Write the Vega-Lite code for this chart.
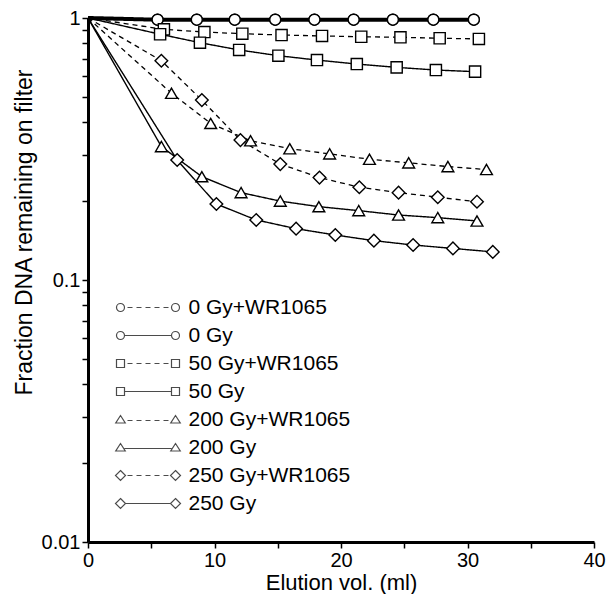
{
  "$schema": "https://vega.github.io/schema/vega-lite/v6.json",
  "autosize": "none",
  "width": 506,
  "height": 524,
  "padding": {"left": 88, "top": 18, "right": 20, "bottom": 52},
  "background": "white",
  "config": {
    "view": {"stroke": null},
    "font": "Liberation Sans",
    "axis": {"grid": false, "domainColor": "black", "tickColor": "black", "labelColor": "black", "titleColor": "black", "labelFont": "Liberation Sans", "titleFont": "Liberation Sans"}
  },
  "datasets": {
    "curves": [
      {"series": "0 Gy+WR1065", "vol": 0, "frac": 1},
      {"series": "0 Gy+WR1065", "vol": 5.5, "frac": 0.985},
      {"series": "0 Gy+WR1065", "vol": 8.6, "frac": 0.985},
      {"series": "0 Gy+WR1065", "vol": 11.6, "frac": 0.985},
      {"series": "0 Gy+WR1065", "vol": 14.8, "frac": 0.985},
      {"series": "0 Gy+WR1065", "vol": 17.9, "frac": 0.985},
      {"series": "0 Gy+WR1065", "vol": 21.0, "frac": 0.985},
      {"series": "0 Gy+WR1065", "vol": 24.1, "frac": 0.985},
      {"series": "0 Gy+WR1065", "vol": 27.3, "frac": 0.985},
      {"series": "0 Gy+WR1065", "vol": 30.5, "frac": 0.985},
      {"series": "0 Gy", "vol": 0, "frac": 1},
      {"series": "0 Gy", "vol": 5.5, "frac": 0.985},
      {"series": "0 Gy", "vol": 8.6, "frac": 0.985},
      {"series": "0 Gy", "vol": 11.6, "frac": 0.985},
      {"series": "0 Gy", "vol": 14.8, "frac": 0.985},
      {"series": "0 Gy", "vol": 17.9, "frac": 0.985},
      {"series": "0 Gy", "vol": 21.0, "frac": 0.985},
      {"series": "0 Gy", "vol": 24.1, "frac": 0.985},
      {"series": "0 Gy", "vol": 27.3, "frac": 0.985},
      {"series": "0 Gy", "vol": 30.5, "frac": 0.985},
      {"series": "50 Gy+WR1065", "vol": 0, "frac": 1},
      {"series": "50 Gy+WR1065", "vol": 6.0, "frac": 0.905},
      {"series": "50 Gy+WR1065", "vol": 9.2, "frac": 0.884},
      {"series": "50 Gy+WR1065", "vol": 12.2, "frac": 0.871},
      {"series": "50 Gy+WR1065", "vol": 15.3, "frac": 0.861},
      {"series": "50 Gy+WR1065", "vol": 18.5, "frac": 0.854},
      {"series": "50 Gy+WR1065", "vol": 21.6, "frac": 0.848},
      {"series": "50 Gy+WR1065", "vol": 24.7, "frac": 0.844},
      {"series": "50 Gy+WR1065", "vol": 27.8, "frac": 0.837},
      {"series": "50 Gy+WR1065", "vol": 30.9, "frac": 0.832},
      {"series": "50 Gy", "vol": 0, "frac": 1},
      {"series": "50 Gy", "vol": 5.7, "frac": 0.867},
      {"series": "50 Gy", "vol": 8.85, "frac": 0.805},
      {"series": "50 Gy", "vol": 11.95, "frac": 0.755},
      {"series": "50 Gy", "vol": 15.05, "frac": 0.718},
      {"series": "50 Gy", "vol": 18.1, "frac": 0.691},
      {"series": "50 Gy", "vol": 21.25, "frac": 0.667},
      {"series": "50 Gy", "vol": 24.4, "frac": 0.648},
      {"series": "50 Gy", "vol": 27.5, "frac": 0.633},
      {"series": "50 Gy", "vol": 30.6, "frac": 0.624},
      {"series": "200 Gy+WR1065", "vol": 0, "frac": 1},
      {"series": "200 Gy+WR1065", "vol": 6.6, "frac": 0.516},
      {"series": "200 Gy+WR1065", "vol": 9.7, "frac": 0.396},
      {"series": "200 Gy+WR1065", "vol": 12.85, "frac": 0.34},
      {"series": "200 Gy+WR1065", "vol": 15.95, "frac": 0.317},
      {"series": "200 Gy+WR1065", "vol": 19.1, "frac": 0.303},
      {"series": "200 Gy+WR1065", "vol": 22.25, "frac": 0.289},
      {"series": "200 Gy+WR1065", "vol": 25.35, "frac": 0.28},
      {"series": "200 Gy+WR1065", "vol": 28.45, "frac": 0.271},
      {"series": "200 Gy+WR1065", "vol": 31.5, "frac": 0.264},
      {"series": "200 Gy", "vol": 0, "frac": 1},
      {"series": "200 Gy", "vol": 5.8, "frac": 0.323},
      {"series": "200 Gy", "vol": 9.0, "frac": 0.248},
      {"series": "200 Gy", "vol": 12.1, "frac": 0.2155},
      {"series": "200 Gy", "vol": 15.2, "frac": 0.2},
      {"series": "200 Gy", "vol": 18.25, "frac": 0.1905},
      {"series": "200 Gy", "vol": 21.4, "frac": 0.184},
      {"series": "200 Gy", "vol": 24.55, "frac": 0.177},
      {"series": "200 Gy", "vol": 27.65, "frac": 0.173},
      {"series": "200 Gy", "vol": 30.75, "frac": 0.168},
      {"series": "250 Gy+WR1065", "vol": 0, "frac": 1},
      {"series": "250 Gy+WR1065", "vol": 5.8, "frac": 0.687},
      {"series": "250 Gy+WR1065", "vol": 9.0, "frac": 0.486},
      {"series": "250 Gy+WR1065", "vol": 12.05, "frac": 0.342},
      {"series": "250 Gy+WR1065", "vol": 15.2, "frac": 0.277},
      {"series": "250 Gy+WR1065", "vol": 18.3, "frac": 0.246},
      {"series": "250 Gy+WR1065", "vol": 21.45, "frac": 0.226},
      {"series": "250 Gy+WR1065", "vol": 24.55, "frac": 0.2155},
      {"series": "250 Gy+WR1065", "vol": 27.65, "frac": 0.207},
      {"series": "250 Gy+WR1065", "vol": 30.75, "frac": 0.199},
      {"series": "250 Gy", "vol": 0, "frac": 1},
      {"series": "250 Gy", "vol": 7.05, "frac": 0.287},
      {"series": "250 Gy", "vol": 10.15, "frac": 0.195},
      {"series": "250 Gy", "vol": 13.3, "frac": 0.1695},
      {"series": "250 Gy", "vol": 16.45, "frac": 0.157},
      {"series": "250 Gy", "vol": 19.55, "frac": 0.1485},
      {"series": "250 Gy", "vol": 22.6, "frac": 0.1413},
      {"series": "250 Gy", "vol": 25.7, "frac": 0.136},
      {"series": "250 Gy", "vol": 28.85, "frac": 0.132},
      {"series": "250 Gy", "vol": 32.0, "frac": 0.128}
    ]
  },
  "encoding": {
    "x": {
      "field": "vol", "type": "quantitative",
      "scale": {"domain": [0, 40], "nice": false, "zero": false},
      "axis": {
        "title": "Elution vol. (ml)",
        "values": [0, 5, 10, 15, 20, 25, 30, 35, 40],
        "labelExpr": "datum.value % 10 == 0 ? datum.label : ''",
        "tickSize": 6, "tickWidth": 1.5, "domainWidth": 3,
        "labelFontSize": 20, "labelPadding": 2, "labelFlush": false,
        "titleFontSize": 22, "titleFontWeight": "normal", "titleBaseline": "alphabetic", "titleY": 47
      }
    },
    "y": {
      "field": "frac", "type": "quantitative",
      "scale": {"type": "log", "domain": [0.01, 1], "nice": false},
      "axis": {
        "title": "Fraction DNA remaining on filter",
        "values": [0.01, 0.02, 0.03, 0.04, 0.05, 0.06, 0.07, 0.08, 0.09, 0.1, 0.2, 0.3, 0.4, 0.5, 0.6, 0.7, 0.8, 0.9, 1],
        "labelExpr": "datum.value == 1 ? '1' : datum.value == 0.1 ? '0.1' : datum.value == 0.01 ? '0.01' : ''",
        "tickSize": 6, "tickWidth": 1.5, "domainWidth": 3,
        "labelFontSize": 20, "labelPadding": 2, "labelFlush": false,
        "titleFontSize": 23, "titleFontWeight": "normal", "titleX": -52, "titleY": 214
      }
    }
  },
  "layer": [
    {
      "data": {"name": "curves"},
      "mark": {"type": "line", "color": "black", "strokeCap": "butt"},
      "encoding": {
        "detail": {"field": "series"},
        "strokeDash": {
          "field": "series",
          "scale": {
            "range": [[1, 0], [5, 4], [1, 0], [5, 4], [1, 0], [5, 4], [1, 0], [5, 4]]
          },
          "legend": null
        },
        "strokeWidth": {
          "field": "series",
          "scale": {
            "type": "ordinal",
            "range": [4, 1.3, 1.4, 1.3, 1.4, 1.3, 1.4, 1.3]
          },
          "legend": null
        }
      }
    },
    {
      "data": {"name": "curves"},
      "transform": [{"filter": {"and": [{"field": "series", "oneOf": ["0 Gy+WR1065", "0 Gy"]}, {"field": "vol", "gt": 0}]}}],
      "mark": {"type": "point", "shape": "circle", "filled": true, "fill": "white", "stroke": "black", "strokeWidth": 1.4, "opacity": 1, "size": 120}
    },
    {
      "data": {"name": "curves"},
      "transform": [{"filter": {"and": [{"field": "series", "oneOf": ["50 Gy+WR1065", "50 Gy"]}, {"field": "vol", "gt": 0}]}}],
      "mark": {"type": "point", "shape": "square", "filled": true, "fill": "white", "stroke": "black", "strokeWidth": 1.4, "opacity": 1, "size": 125}
    },
    {
      "data": {"name": "curves"},
      "transform": [{"filter": {"and": [{"field": "series", "oneOf": ["200 Gy+WR1065", "200 Gy"]}, {"field": "vol", "gt": 0}]}}],
      "mark": {"type": "point", "shape": "triangle-up", "filled": true, "fill": "white", "stroke": "black", "strokeWidth": 1.4, "opacity": 1, "size": 140}
    },
    {
      "data": {"name": "curves"},
      "transform": [{"filter": {"and": [{"field": "series", "oneOf": ["250 Gy+WR1065", "250 Gy"]}, {"field": "vol", "gt": 0}]}}],
      "mark": {"type": "point", "shape": "diamond", "filled": true, "fill": "white", "stroke": "black", "strokeWidth": 1.4, "opacity": 1, "size": 160}
    },
    {
      "data": {"name": "curves"},
      "transform": [{"filter": "datum.vol < 0"}],
      "mark": {"type": "point", "filled": false, "color": "black", "strokeWidth": 1.2},
      "encoding": {
        "shape": {
          "field": "series",
          "scale": {
            "domain": ["0 Gy+WR1065", "0 Gy", "50 Gy+WR1065", "50 Gy", "200 Gy+WR1065", "200 Gy", "250 Gy+WR1065", "250 Gy"],
            "range": [
              "M-6.3,0A0.8,0.8,0,1,0,-4.7,0A0.8,0.8,0,1,0,-6.3,0ZM4.7,0A0.8,0.8,0,1,0,6.3,0A0.8,0.8,0,1,0,4.7,0ZM-4.1,0L-3.1,0M-2.3,0L-1.3,0M-0.5,0L0.5,0M1.3,0L2.3,0M3.1,0L4.1,0",
              "M-6.3,0A0.8,0.8,0,1,0,-4.7,0A0.8,0.8,0,1,0,-6.3,0ZM4.7,0A0.8,0.8,0,1,0,6.3,0A0.8,0.8,0,1,0,4.7,0ZM-4.7,0L4.7,0",
              "M-6.3,-0.8L-4.7,-0.8L-4.7,0.8L-6.3,0.8ZM4.7,-0.8L6.3,-0.8L6.3,0.8L4.7,0.8ZM-4.1,0L-3.1,0M-2.3,0L-1.3,0M-0.5,0L0.5,0M1.3,0L2.3,0M3.1,0L4.1,0",
              "M-6.3,-0.8L-4.7,-0.8L-4.7,0.8L-6.3,0.8ZM4.7,-0.8L6.3,-0.8L6.3,0.8L4.7,0.8ZM-4.7,0L4.7,0",
              "M-5.5,-0.8L-4.55,0.7L-6.45,0.7ZM5.5,-0.8L6.45,0.7L4.55,0.7ZM-4.1,0.2L-3.1,0.2M-2.3,0.2L-1.3,0.2M-0.5,0.2L0.5,0.2M1.3,0.2L2.3,0.2M3.1,0.2L4.1,0.2",
              "M-5.5,-0.8L-4.55,0.7L-6.45,0.7ZM5.5,-0.8L6.45,0.7L4.55,0.7ZM-4.7,0.2L4.7,0.2",
              "M-5.5,-1L-4.5,0L-5.5,1L-6.5,0ZM5.5,-1L6.5,0L5.5,1L4.5,0ZM-4.1,0L-3.1,0M-2.3,0L-1.3,0M-0.5,0L0.5,0M1.3,0L2.3,0M3.1,0L4.1,0",
              "M-5.5,-1L-4.5,0L-5.5,1L-6.5,0ZM5.5,-1L6.5,0L5.5,1L4.5,0ZM-4.5,0L4.5,0"
            ]
          },
          "legend": {
            "title": null,
            "orient": "none",
            "legendX": 49.5,
            "legendY": 279,
            "padding": 0,
            "symbolSize": 100,
            "symbolStrokeWidth": 1.2,
            "labelFontSize": 21,
            "labelFont": "Liberation Sans",
            "labelColor": "black",
            "labelOffset": 30,
            "rowPadding": 6,
            "labelLimit": 300
          }
        }
      }
    },
    {
      "data": {"values": [{"label": "pH 9.6"}]},
      "mark": {"type": "text", "fontSize": 20, "fontWeight": "bold", "font": "Liberation Sans", "color": "black", "align": "center", "baseline": "alphabetic"},
      "encoding": {
        "x": {"datum": 35.4},
        "y": {"datum": 0.812},
        "text": {"field": "label"}
      }
    }
  ]
}
